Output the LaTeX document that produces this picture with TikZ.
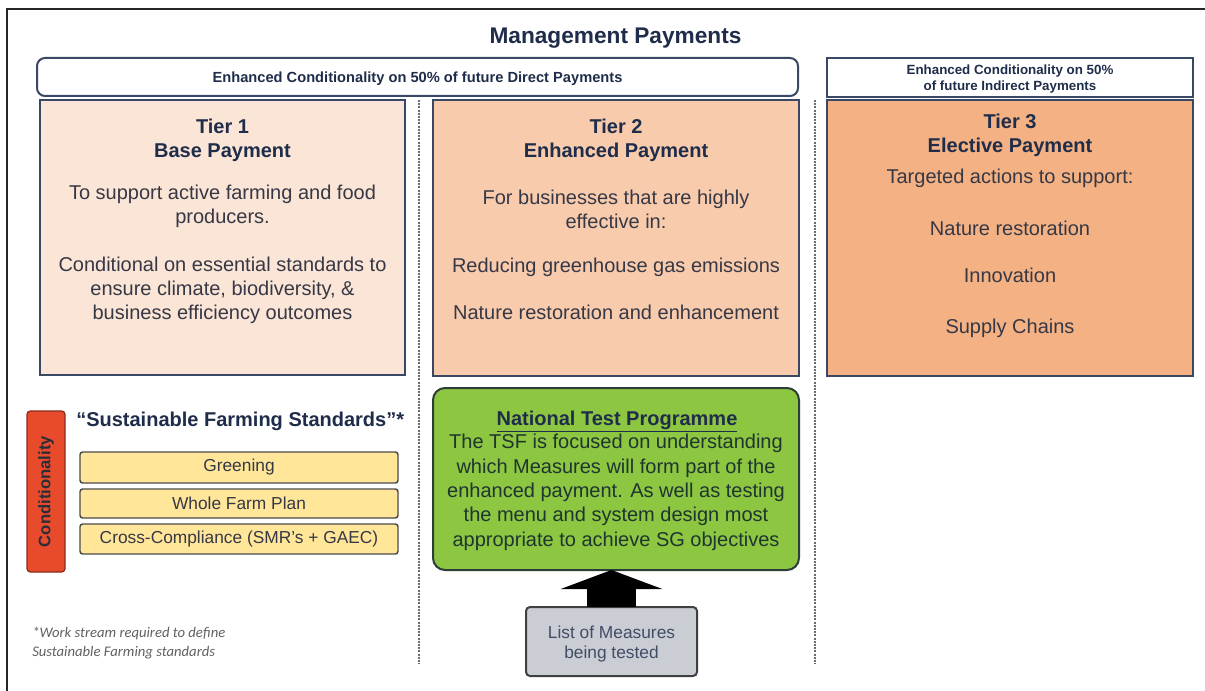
\documentclass[tikz,border=0pt]{standalone}
\usepackage{fontspec}
\setmainfont{Liberation Sans}
\newfontfamily\notefont{Carlito}
\usetikzlibrary{arrows.meta,fit}

\definecolor{navy}{HTML}{1F2D4A}
\definecolor{ink}{HTML}{363845}
\definecolor{edge}{HTML}{3A4866}
\definecolor{tierone}{HTML}{FBE5D6}
\definecolor{tiertwo}{HTML}{F8CBAD}
\definecolor{tierthree}{HTML}{F4B183}
\definecolor{stdfill}{HTML}{FFE699}
\definecolor{condred}{HTML}{E84A2C}
\definecolor{testgreen}{HTML}{8DC641}
\definecolor{greenedge}{HTML}{2C3E38}
\definecolor{greenink}{HTML}{1E3530}
\definecolor{measgray}{HTML}{CBCDD5}
\definecolor{sepgray}{HTML}{6A6A70}

% text nodes are placed by the baseline of their last line
\tikzset{
  box/.style={draw=edge, line width=1.5pt, inner sep=0pt, outer sep=0pt},
  tierbox/.style={box},
  hdrbox/.style={box, fill=white},
  stdbox/.style={draw=black!70, line width=1.1pt, rounded corners=2pt,
                 fill=stdfill, inner sep=0pt, outer sep=0pt},
  tierhead/.style={anchor=base, align=center, inner sep=0pt, text=navy,
                   font=\bfseries\fontsize{15}{18}\selectfont},
  tiertext/.style={anchor=base, align=center, inner sep=0pt, text=ink,
                   font=\fontsize{15}{18}\selectfont},
  hdrtext/.style={anchor=base, align=center, inner sep=0pt, text=navy,
                  font=\bfseries\fontsize{11}{13}\selectfont},
  stdtext/.style={text=ink, inner sep=0pt, font=\fontsize{13}{15}\selectfont},
  separator/.style={draw=sepgray, line width=0.8pt, dash pattern=on 1.5pt off 0.9pt},
}

\begin{document}
\begin{tikzpicture}[x=0.75pt, y=-0.75pt]
\useasboundingbox (0,0) rectangle (1205,691);
\fill[white] (0,0) rectangle (1205,691);

% outer frame (top and left edges)
\draw[line width=2.2pt, black!85] (1205,9) -- (7,9) -- (7,691);

% title
\node[anchor=base, inner sep=0pt, text=navy, font=\bfseries\fontsize{17}{20}\selectfont]
  (title) at (615.5,44) {Management Payments};

% header bands
\node[hdrbox, rounded corners=6pt, fit={(37,58) (798,96)}] (hdrdirect) {};
\node[hdrtext] (hdrdirecttext) at (417.5,83)
  {Enhanced Conditionality on 50\% of future Direct Payments};
\node[hdrbox, fit={(827,58) (1193,97)}] (hdrindirect) {};
\node[hdrtext, font=\bfseries\fontsize{10}{12.5}\selectfont] (hdrindirecttext) at (1010,91)
  {Enhanced Conditionality on 50\%\\of future Indirect Payments};

% column separators
\draw[separator] (419,100) -- (419,664);
\draw[separator] (815,100) -- (815,664);

% tier 1
\node[tierbox, fill=tierone, fit={(40,100) (405,375)}] (tierA) {};
\node[tierhead] (tierAhead) at (222.5,157.5) {Tier 1\\Base Payment};
\node[tiertext] (tierAp1) at (222.5,224) {To support active farming and food\\producers.};
\node[tiertext] (tierAp2) at (222.5,320) {Conditional on essential standards to\\ensure climate, biodiversity, \&\\business efficiency outcomes};

% tier 2
\node[tierbox, fill=tiertwo, fit={(433,100) (799,376)}] (tierB) {};
\node[tierhead] (tierBhead) at (616,157.5) {Tier 2\\Enhanced Payment};
\node[tiertext] (tierBp1) at (616,229) {For businesses that are highly\\effective in:};
\node[tiertext] (tierBp2) at (616,273) {Reducing greenhouse gas emissions};
\node[tiertext] (tierBp3) at (616,320) {Nature restoration and enhancement};

% tier 3
\node[tierbox, fill=tierthree, fit={(827,100) (1193,376)}] (tierC) {};
\node[tierhead] (tierChead) at (1010,152.5) {Tier 3\\Elective Payment};
\node[tiertext] (tierCp1) at (1010,184) {Targeted actions to support:};
\node[tiertext] (tierCp2) at (1010,236) {Nature restoration};
\node[tiertext] (tierCp3) at (1010,283) {Innovation};
\node[tiertext] (tierCp4) at (1010,333) {Supply Chains};

% conditionality column
\node[draw=condred!60!black, line width=0.9pt, rounded corners=2.5pt, fill=condred,
      inner sep=0pt, fit={(27,411) (65,572)}] (cond) {};
\node[rotate=90, inner sep=0pt, text=ink!80!black, font=\bfseries\fontsize{12.5}{14}\selectfont]
  (condtext) at (cond.center) {Conditionality};

\node[anchor=base west, inner sep=0pt, text=navy, font=\bfseries\fontsize{15}{18}\selectfont]
  (sfs) at (76,426) {“Sustainable Farming Standards”*};

\node[stdbox, fit={(80,452) (398,483)}] (greening) {};
\node[stdtext] at (greening.center) {Greening};
\node[stdbox, fit={(80,489) (398,518)}] (wfp) {};
\node[stdtext] at (wfp.center) {Whole Farm Plan};
\node[stdbox, fit={(80,524) (398,554)}] (cc) {};
\node[stdtext] at (cc.center) {Cross-Compliance (SMR’s + GAEC)};

% footnote
\node[anchor=base west, align=left, inner sep=0pt, text=black!62,
      font=\notefont\itshape\fontsize{11}{14.25}\selectfont]
  (note) at (32,656) {*Work stream required to define\\Sustainable Farming standards};

% national test programme
\node[draw=greenedge, line width=1.5pt, rounded corners=9pt, fill=testgreen,
      inner sep=0pt, outer sep=0pt, fit={(433,388) (799,570)}] (ntp) {};
\node[anchor=base, inner sep=0pt, text=navy, font=\bfseries\fontsize{15}{18}\selectfont]
  (ntphead) at (617,425) {\underline{National Test Programme}};
\node[anchor=base, align=center, inner sep=0pt, text=greenink, font=\fontsize{15}{18.2}\selectfont]
  (ntpbody) at (616,546) {The TSF is focused on understanding\\which Measures will form part of the\\enhanced payment. As well as testing\\the menu and system design most\\appropriate to achieve SG objectives};

% measures under test
\node[draw=black!75, line width=1.5pt, rounded corners=3pt, fill=measgray,
      inner sep=0pt, outer sep=0pt, fit={(526,607) (697,676)}] (meas) {};
\node[anchor=base, align=center, inner sep=0pt, text=navy!85, font=\fontsize{13}{15}\selectfont]
  (meastext) at (611.5,658) {List of Measures\\being tested};

% block arrow feeding the test programme
\draw[black, line width=36.75pt, -{Triangle[length=14.25pt, width=75.75pt]}]
  (meas.north) -- (meas.north |- ntp.south);

\end{tikzpicture}
\end{document}
